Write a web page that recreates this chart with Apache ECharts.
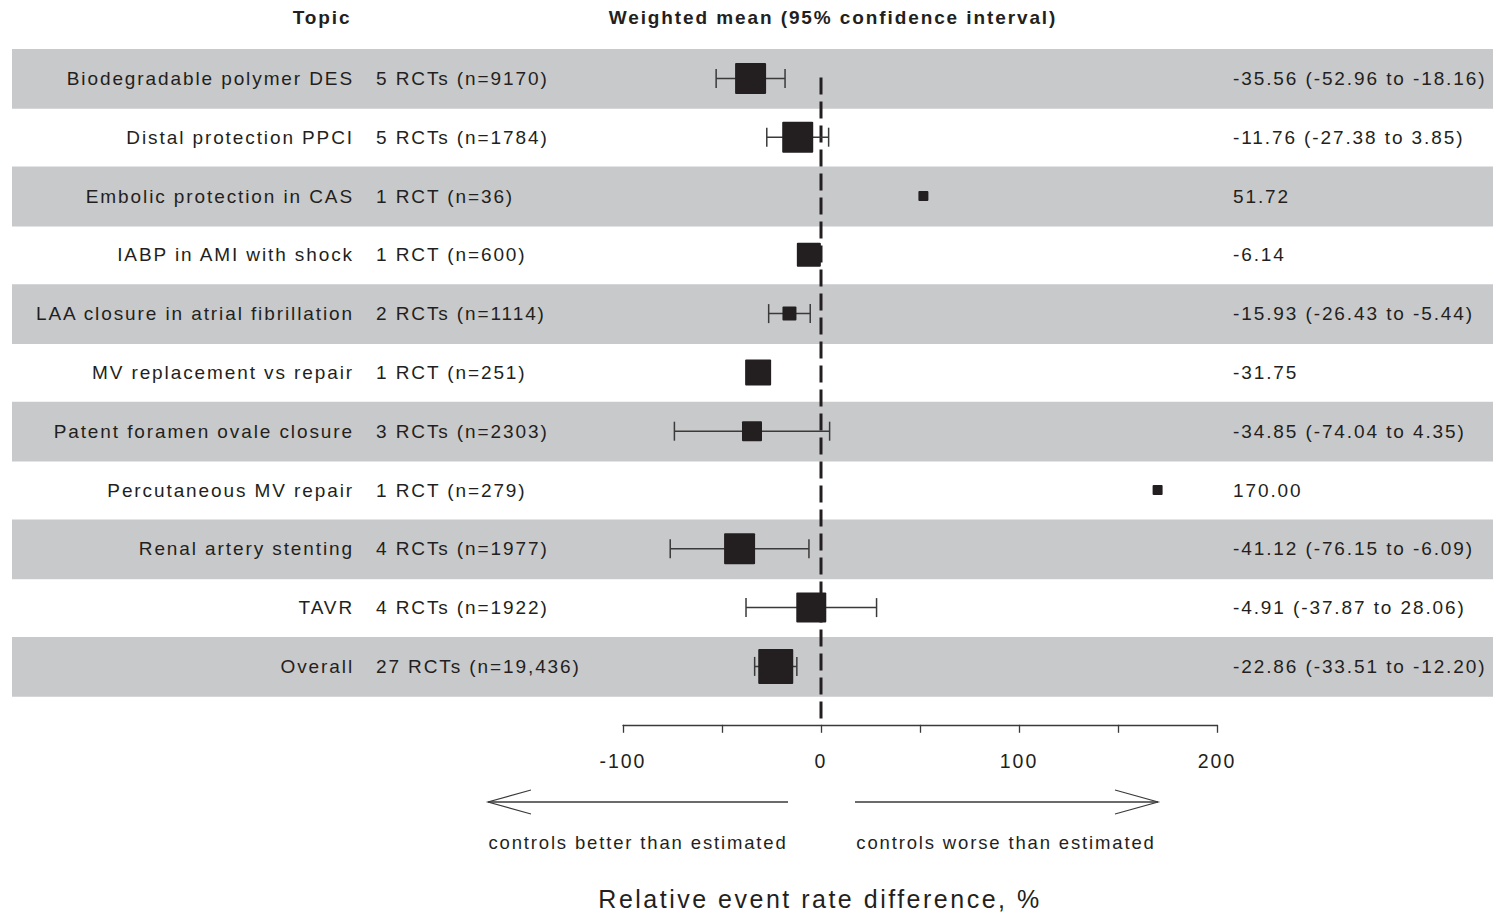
<!DOCTYPE html>
<html><head><meta charset="utf-8">
<script src="https://cdn.jsdelivr.net/npm/echarts@6/dist/echarts.min.js"></script>
<style>
html,body{margin:0;padding:0;background:#fff;}
#main{width:1493px;height:913px;}
#main svg text{letter-spacing:0.1em;}
</style></head><body><div id="main"></div>
<script>
const topics = ['Biodegradable polymer DES','Distal protection PPCI','Embolic protection in CAS','IABP in AMI with shock','LAA closure in atrial fibrillation','MV replacement vs repair','Patent foramen ovale closure','Percutaneous MV repair','Renal artery stenting','TAVR','Overall'];
const trials = ['5 RCTs (n=9170)','5 RCTs (n=1784)','1 RCT (n=36)','1 RCT (n=600)','2 RCTs (n=1114)','1 RCT (n=251)','3 RCTs (n=2303)','1 RCT (n=279)','4 RCTs (n=1977)','4 RCTs (n=1922)','27 RCTs (n=19,436)'];
const means = [-35.56,-11.76,51.72,-6.14,-15.93,-31.75,-34.85,170.00,-41.12,-4.91,-22.86];
const lower = [-52.96,-27.38,null,null,-26.43,null,-74.04,null,-76.15,-37.87,-33.51];
const upper = [-18.16,3.85,null,null,-5.44,null,4.35,null,-6.09,28.06,-12.20];
const weights = [62,62,20,48,28,52,40,20,62,60,70];
const xTicks = [-100,0,100,200];
const headers = ['Topic','Weighted mean (95% confidence interval)'];
const arrowLabels = ['controls better than estimated','controls worse than estimated'];
const axisTitle = 'Relative event rate difference, %';

const FONT = "'Liberation Sans', Arial, sans-serif";
const INK = '#231f20';
const fmt = v => v.toFixed(2);
const estimates = means.map((m,k) => lower[k]==null ? fmt(m) : fmt(m)+' ('+fmt(lower[k])+' to '+fmt(upper[k])+')');
const rows = topics.map((t,k)=>[means[k], k+0.5]);

const chart = echarts.init(document.getElementById('main'), null, {renderer:'svg'});
chart.setOption({
  backgroundColor:'#fff',
  animation:false,
  grid:{left:623, width:594, top:49, height:646.8, outerBoundsMode:'none', containLabel:false},
  xAxis:{type:'value', min:-100, max:200, interval:50, offset:29,
    axisLine:{show:true, onZero:false, lineStyle:{color:'#3a3a3a', width:1.3}},
    axisTick:{show:true, length:8, lineStyle:{color:'#3a3a3a', width:1.3}},
    splitLine:{show:false},
    axisLabel:{margin:26, fontSize:19.5, color:INK, fontFamily:FONT, formatter:v=>xTicks.includes(v)?String(v):''}
  },
  yAxis:{type:'value', min:0, max:11, inverse:true, show:false},
  series:[
    {type:'custom', z:1, clip:false, data:rows, silent:true,
     renderItem(params, api){
       const k = params.dataIndex;
       if (k % 2 !== 0) return null;
       const y0 = api.coord([0,k])[1], y1 = api.coord([0,k+1])[1];
       return {type:'rect', shape:{x:12, y:y0, width:1481, height:y1-y0+1}, style:{fill:'#c8c9cb'}};
     }},
    {type:'custom', z:2, clip:false, data:rows, silent:true,
     renderItem(params, api){
       const k = params.dataIndex;
       const y = api.coord([0,k+0.5])[1];
       const st = {fontSize:19, fontFamily:FONT, fill:INK, verticalAlign:'middle'};
       return {type:'group', children:[
         {type:'text', x:354, y:y, style:Object.assign({text:topics[k], align:'right'}, st)},
         {type:'text', x:376, y:y, style:Object.assign({text:trials[k], align:'left'}, st)},
         {type:'text', x:1233, y:y, style:Object.assign({text:estimates[k], align:'left'}, st)}
       ]};
     }},
    {type:'custom', z:3, clip:false, data:[[0,0.5]], silent:true,
     renderItem(params, api){
       const top = api.coord([0,0.5]);
       const bot = api.coord([0,11]);
       return {type:'line', shape:{x1:top[0], y1:top[1]-1, x2:top[0], y2:bot[1]+26},
         style:{stroke:INK, lineWidth:3, lineDash:[17,7]}};
     }},
    {type:'custom', z:4, clip:false, data:rows, silent:true,
     renderItem(params, api){
       const k = params.dataIndex;
       const c = api.coord([means[k], k+0.5]);
       const s = weights[k]*0.5;
       const ch = [];
       if (lower[k]!=null){
         const a = api.coord([lower[k], k+0.5]), b = api.coord([upper[k], k+0.5]);
         const ls = {stroke:'#3a3a3a', lineWidth:1.5};
         ch.push({type:'line', shape:{x1:a[0],y1:a[1],x2:b[0],y2:b[1]}, style:ls});
         ch.push({type:'line', shape:{x1:a[0],y1:a[1]-9.5,x2:a[0],y2:a[1]+9.5}, style:ls});
         ch.push({type:'line', shape:{x1:b[0],y1:b[1]-9.5,x2:b[0],y2:b[1]+9.5}, style:ls});
       }
       ch.push({type:'rect', shape:{x:c[0]-s/2, y:c[1]-s/2, width:s, height:s, r:1}, style:{fill:INK}});
       return {type:'group', children:ch};
     }}
  ],
  graphic:[
    {type:'text', x:322, y:17, style:{text:headers[0], align:'center', verticalAlign:'middle', fontSize:19, fontWeight:'bold', fontFamily:FONT, fill:INK}},
    {type:'text', x:833, y:17, style:{text:headers[1], align:'center', verticalAlign:'middle', fontSize:19, fontWeight:'bold', fontFamily:FONT, fill:INK}},
    {type:'line', shape:{x1:488,y1:802,x2:788,y2:802}, style:{stroke:'#3a3a3a', lineWidth:1.3}},
    {type:'polyline', shape:{points:[[531,790],[488,802],[531,814]]}, style:{stroke:'#3a3a3a', lineWidth:1.2, fill:null}},
    {type:'line', shape:{x1:855,y1:802,x2:1158,y2:802}, style:{stroke:'#3a3a3a', lineWidth:1.3}},
    {type:'polyline', shape:{points:[[1115,790],[1158,802],[1115,814]]}, style:{stroke:'#3a3a3a', lineWidth:1.2, fill:null}},
    {type:'text', x:638, y:842, style:{text:arrowLabels[0], align:'center', verticalAlign:'middle', fontSize:18.5, fontFamily:FONT, fill:INK}},
    {type:'text', x:1006, y:842, style:{text:arrowLabels[1], align:'center', verticalAlign:'middle', fontSize:18.5, fontFamily:FONT, fill:INK}},
    {type:'text', x:820, y:899, style:{text:axisTitle, align:'center', verticalAlign:'middle', fontSize:25, fontFamily:FONT, fill:INK}}
  ]
});
</script></body></html>
